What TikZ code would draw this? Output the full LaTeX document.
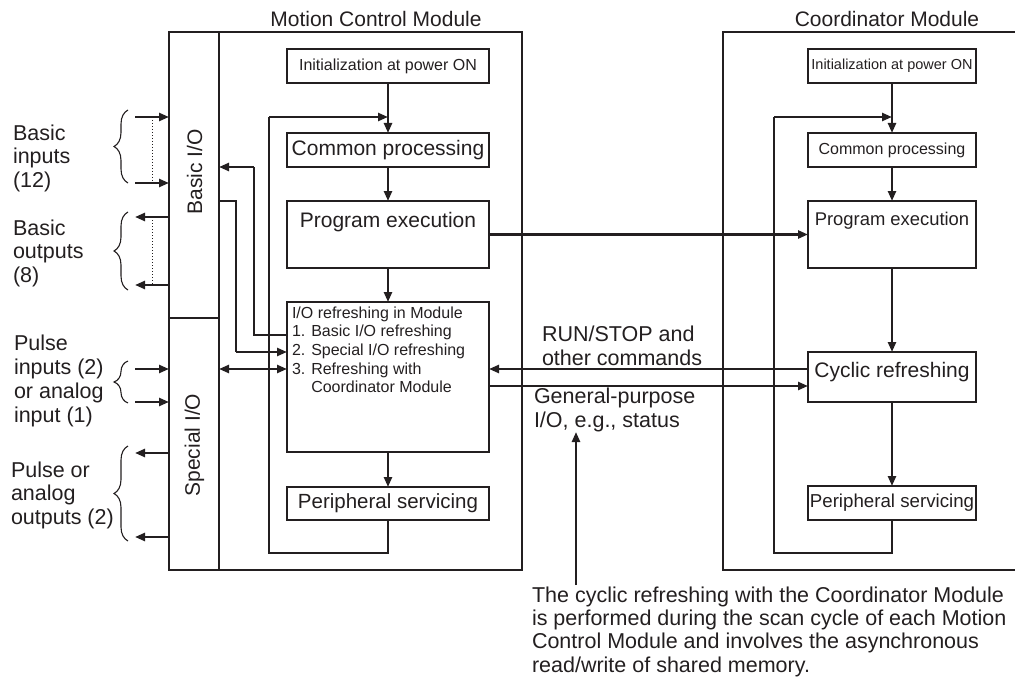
\documentclass[tikz,border=0pt]{standalone}
\usepackage{fontspec}
\setmainfont{Liberation Sans}
\usetikzlibrary{arrows.meta,decorations.pathreplacing,calc}
\definecolor{ink}{HTML}{231F20}
\begin{document}
\begin{tikzpicture}[x=1pt,y=-1pt,
  every node/.style={inner sep=0pt, outer sep=0pt, text=ink},
  box/.style={draw=ink, line width=1.3pt},
  module/.style={draw=ink, line width=1.7pt},
  wire/.style={draw=ink, line width=1.3pt},
  arr/.style={draw=ink, line width=2.4pt, -{Triangle[length=10pt,width=8pt]}},
  dblarr/.style={draw=ink, line width=2.4pt, {Triangle[length=10pt,width=8pt]}-{Triangle[length=10pt,width=8pt]}},
  dots/.style={draw=ink, line width=1pt, dotted},
  brc/.style={draw=ink, line width=1.1pt, decorate, decoration={brace, amplitude=14pt, aspect=0.5}},
  lab/.style={font=\fontsize{21.5}{23.5}\selectfont, align=left},
  fbig/.style={font=\fontsize{21}{24}\selectfont},
]
\useasboundingbox (0,0) rectangle (1015,682);

% ---------- titles
\node[fbig] (mcmtitle) at (376,19) {Motion Control Module};
\node[fbig] (cmtitle) at (887,19) {Coordinator Module};

% ---------- Motion Control Module frame
\node[module, minimum width=353pt, minimum height=538pt] (mcm) at (345.5,301) {};
\node[module, minimum width=50pt, minimum height=286pt] (basicio) at (194,175) {};
\node[module, minimum width=50pt, minimum height=252pt] (specialio) at (194,444) {};
\node[fbig, rotate=90] (basicioT) at (194.5,172) {Basic I/O};
\node[fbig, rotate=90] (specialioT) at (194.5,445) {Special I/O};

% ---------- Coordinator Module frame (open at the right)
\coordinate (cmA) at (1020,32);
\coordinate (cmB) at (723,32);
\coordinate (cmC) at (723,570);
\coordinate (cmD) at (1020,570);
\draw[module] (cmA) -- (cmB) -- (cmC) -- (cmD);

% ---------- MCM boxes
\node[box, minimum width=202pt, minimum height=34pt, font=\fontsize{16}{19}\selectfont] (init1) at (388,66) {Initialization at power ON};
\node[box, minimum width=202pt, minimum height=34pt, font=\fontsize{21}{24}\selectfont] (common1) at (388,150) {Common processing};
\node[box, minimum width=202pt, minimum height=67pt] (prog1) at (388,234.5) {};
\node[fbig, anchor=base] (prog1T) at (388,227) {Program execution};
\node[box, minimum width=202pt, minimum height=150pt] (io1) at (388,377) {};
\node[anchor=base west, align=left, font=\fontsize{16}{18.7}\selectfont] (io1T) at (292,392.8)
  {I/O refreshing in Module\\1. Basic I/O refreshing\\2. Special I/O refreshing\\3. Refreshing with\\\phantom{3. }Coordinator Module};
\node[box, minimum width=202pt, minimum height=33pt, font=\fontsize{20.5}{24}\selectfont] (periph1) at (388,503.5) {Peripheral servicing};

% ---------- CM boxes
\node[box, minimum width=168pt, minimum height=34pt, font=\fontsize{14.5}{17}\selectfont] (init2) at (892,66) {Initialization at power ON};
\node[box, minimum width=168pt, minimum height=34pt, font=\fontsize{16}{19}\selectfont] (common2) at (892,150) {Common processing};
\node[box, minimum width=168pt, minimum height=67pt] (prog2) at (892,234.5) {};
\node[anchor=base, font=\fontsize{18.4}{22}\selectfont] (prog2T) at (892,225) {Program execution};
\node[box, minimum width=168pt, minimum height=50pt] (cyclic2) at (892,377) {};
\node[fbig, anchor=base] (cyclic2T) at (892,377) {Cyclic refreshing};
\node[box, minimum width=168pt, minimum height=34pt, font=\fontsize{18.7}{22}\selectfont] (periph2) at (892,503) {Peripheral servicing};

% ---------- MCM flow
\draw[arr] (init1) -- (common1);
\draw[arr] (common1) -- (prog1);
\draw[arr] (prog1) -- (io1);
\draw[arr] (io1) -- (periph1);
\coordinate (l1a) at (388,117);
\coordinate (l1b) at (269,117);
\coordinate (l1c) at (269,553);
\coordinate (l1d) at (388,553);
\draw[wire] (periph1) -- (l1d) -- (l1c) -- (l1b);
\draw[arr] (l1b) -- (l1a);

% ---------- CM flow
\draw[arr] (init2) -- (common2);
\draw[arr] (common2) -- (prog2);
\draw[arr] (prog2) -- (cyclic2);
\draw[arr] (cyclic2) -- (periph2);
\coordinate (l2a) at (892,117);
\coordinate (l2b) at (774,117);
\coordinate (l2c) at (774,553);
\coordinate (l2d) at (892,553);
\draw[wire] (periph2) -- (l2d) -- (l2c) -- (l2b);
\draw[arr] (l2b) -- (l2a);

% ---------- internal I/O connections
\coordinate (b1) at (254,335);
\coordinate (b2) at (254,167);
\draw[wire] (io1.west |- b1) -- (b1) -- (b2);
\draw[arr] (b2) -- (b2 -| basicio.east);
\coordinate (s1) at (236,201);
\coordinate (s2) at (236,352);
\draw[wire] (s1 -| basicio.east) -- (s1) -- (s2);
\draw[arr] (s2) -- (s2 -| io1.west);
\coordinate (d1) at (236,369);
\draw[dblarr] (specialio.east |- d1) -- (io1.west |- d1);

% ---------- between modules
\draw[arr] (prog1) -- (prog2);
\draw[arr] ([yshift=8pt]cyclic2.west) -- ([yshift=8pt]io1.east);
\draw[arr] ([yshift=-9pt]io1.east) -- ([yshift=-9pt]cyclic2.west);
\node[lab, anchor=base west] (lrun) at (542,365) {RUN/STOP and\\other commands};
\node[lab, anchor=base west] (lgp) at (534,427) {General-purpose\\I/O, e.g., status};

% ---------- external I/O
\coordinate (bi1) at (135,117);
\coordinate (bi2) at (135,183);
\coordinate (bo1) at (135,217);
\coordinate (bo2) at (135,285);
\coordinate (si1) at (135,369);
\coordinate (si2) at (135,402);
\coordinate (so1) at (135,453);
\coordinate (so2) at (135,537);
\coordinate (dx) at (152,0);
\draw[arr] (bi1) -- (bi1 -| basicio.west);
\draw[arr] (bi2) -- (bi2 -| basicio.west);
\draw[arr] (bo1 -| basicio.west) -- (bo1);
\draw[arr] (bo2 -| basicio.west) -- (bo2);
\draw[arr] (si1) -- (si1 -| specialio.west);
\draw[arr] (si2) -- (si2 -| specialio.west);
\draw[arr] (so1 -| specialio.west) -- (so1);
\draw[arr] (so2 -| specialio.west) -- (so2);
\draw[dots] (dx |- bi1) -- (dx |- bi2);
\draw[dots] (dx |- bo1) -- (dx |- bo2);

% braces
\coordinate (br1a) at (128,183); \coordinate (br1b) at (128,110);
\coordinate (br2a) at (128,290); \coordinate (br2b) at (128,212);
\coordinate (br3a) at (128,403); \coordinate (br3b) at (128,361);
\coordinate (br4a) at (128,541); \coordinate (br4b) at (128,446);
\draw[brc] (br1a) -- (br1b);
\draw[brc] (br2a) -- (br2b);
\draw[brc] (br3a) -- (br3b);
\draw[brc] (br4a) -- (br4b);

\node[lab, anchor=base west] (lbi) at (13,187) {Basic\\inputs\\(12)};
\node[lab, anchor=base west] (lbo) at (13,282) {Basic\\outputs\\(8)};
\node[lab, anchor=base west, font=\fontsize{21.5}{24}\selectfont] (lsi) at (14,422) {Pulse\\inputs (2)\\or analog\\input (1)};
\node[lab, anchor=base west] (lso) at (11,524) {Pulse or\\analog\\outputs (2)};

% ---------- note
\node[lab, anchor=base west, font=\fontsize{21.5}{23.3}\selectfont] (note) at (532,672)
  {The cyclic refreshing with the Coordinator Module\\is performed during the scan cycle of each Motion\\Control Module and involves the asynchronous\\read/write of shared memory.};
\coordinate (annS) at (576,585);
\coordinate (annE) at (576,432);
\draw[arr] (annS) -- (annE);
\end{tikzpicture}
\end{document}
